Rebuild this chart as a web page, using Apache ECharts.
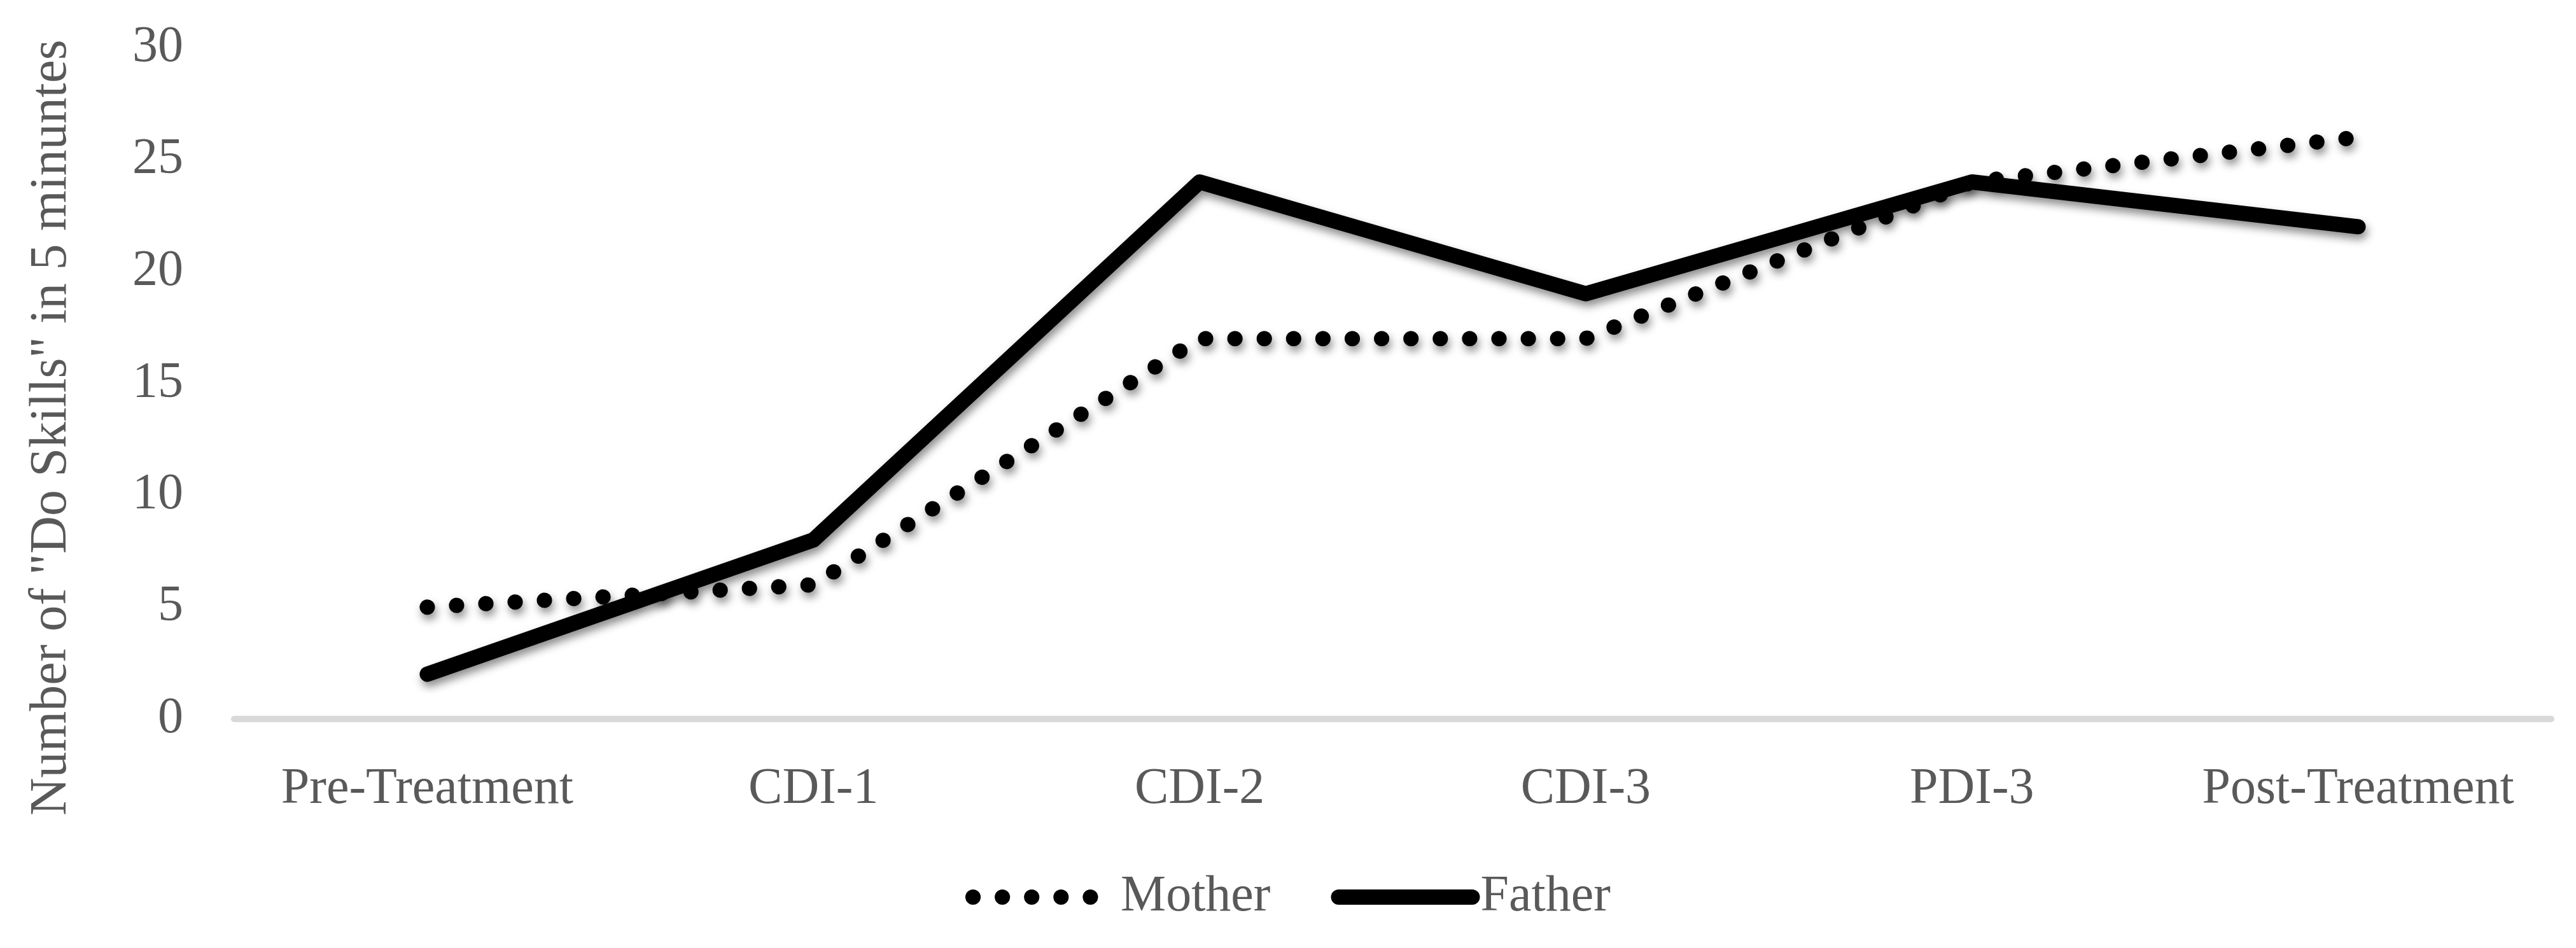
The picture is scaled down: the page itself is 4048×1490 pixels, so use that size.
<!DOCTYPE html>
<html>
<head>
<meta charset="utf-8">
<style>
  html, body { margin: 0; padding: 0; background: #ffffff; }
  #chart { width: 4048px; height: 1490px; }
</style>
<script src="https://cdn.jsdelivr.net/npm/echarts@6/dist/echarts.min.js"></script>
</head>
<body>
<div id="chart"></div>
<script>
const categories = ['Pre-Treatment', 'CDI-1', 'CDI-2', 'CDI-3', 'PDI-3', 'Post-Treatment'];
const motherValues = [5, 6, 17, 17, 24, 26];
const fatherValues = [2, 8, 24, 19, 24, 22];
const yTicks = [0, 5, 10, 15, 20, 25, 30];
const yAxisTitle = 'Number of "Do Skills" in 5 minuntes';

const FONT = '"Liberation Serif", "Times New Roman", serif';
const TEXT_COLOR = '#595959';

const chart = echarts.init(document.getElementById('chart'));

const shadow = {
  shadowColor: 'rgba(0,0,0,0.45)',
  shadowBlur: 14,
  shadowOffsetX: 3,
  shadowOffsetY: 8
};

chart.setOption({
  animation: false,
  backgroundColor: '#ffffff',
  grid: { left: 368, right: 39, top: 75, bottom: 360, containLabel: false },
  xAxis: {
    type: 'category',
    data: categories,
    boundaryGap: true,
    axisLine: { show: true, lineStyle: { color: '#d9d9d9', width: 10 } },
    axisTick: { show: false },
    axisLabel: { color: TEXT_COLOR, fontFamily: FONT, fontSize: 80, margin: 71, interval: 0 },
    splitLine: { show: false }
  },
  yAxis: {
    type: 'value',
    min: yTicks[0],
    max: yTicks[yTicks.length - 1],
    interval: 5,
    axisLine: { show: false },
    axisTick: { show: false },
    splitLine: { show: false },
    axisLabel: { color: TEXT_COLOR, fontFamily: FONT, fontSize: 80, margin: 80 }
  },
  legend: {
    left: 1512,
    top: 1365,
    itemWidth: 210,
    itemHeight: 30,
    itemGap: 95,
    textStyle: { color: TEXT_COLOR, fontFamily: FONT, fontSize: 80 },
    itemStyle: { color: 'transparent', borderWidth: 0, opacity: 0 },
    data: [
      {
        name: 'Mother',
        textStyle: { padding: [0, 0, 0, 17] },
        lineStyle: { color: '#000000', width: 24, type: [0.1, 46], cap: 'round' }
      },
      {
        name: 'Father',
        textStyle: { padding: [0, 0, 0, 8] },
        lineStyle: { color: '#000000', width: 24, type: 'solid', cap: 'round' }
      }
    ]
  },
  graphic: [{
    type: 'text',
    x: 81,
    y: 672,
    rotation: Math.PI / 2,
    style: {
      text: yAxisTitle,
      fill: TEXT_COLOR,
      font: '82px ' + FONT,
      align: 'center',
      verticalAlign: 'middle'
    }
  }],
  series: [
    {
      name: 'Mother',
      type: 'line',
      data: motherValues,
      symbol: 'none',
      lineStyle: Object.assign({ color: '#000000', width: 24, type: [0.1, 46], cap: 'round', join: 'round' }, shadow),
      itemStyle: { color: '#000000' },
      z: 3
    },
    {
      name: 'Father',
      type: 'line',
      data: fatherValues,
      symbol: 'none',
      lineStyle: Object.assign({ color: '#000000', width: 24, type: 'solid', cap: 'round', join: 'round' }, shadow),
      itemStyle: { color: '#000000' },
      z: 2
    }
  ]
});
</script>
</body>
</html>
